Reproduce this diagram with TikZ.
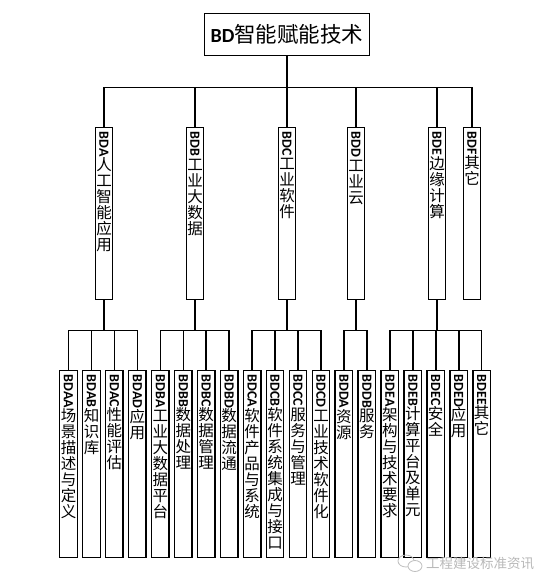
\documentclass[tikz,border=0pt]{standalone}
\usepackage{fontspec}
\usepackage{graphicx}
\usepackage{tikz}
\newfontfamily\bdTreeCJK{Noto Sans CJK SC}
\newfontfamily\bdTreeLatin{Carlito}
\overfullrule=0pt
\makeatletter
\newcommand{\bdTreeChars}[1]{\@tfor\bdTreeCh:=#1\do{\hbox to \hsize{\hss\raisebox{0pt}[13.4pt][2.6pt]{\bdTreeCh}\hss}}}
\makeatother
\newcommand{\bdTreeLabel}[4]{\vbox to #2{\hsize=#1\relax\offinterlineskip\vskip 4pt
  \hbox to \hsize{\hss\rotatebox{-90}{\bdTreeLatin\bfseries\fontsize{14}{14}\selectfont #3}\hss}%
  \vskip 0.5pt
  {\bdTreeCJK\fontsize{15.5}{16}\selectfont\bdTreeChars{#4}}\vfill}}
\newcommand{\bdTopLabel}[2]{\bdTreeLabel{17.5pt}{172pt}{#1}{#2}}
\newcommand{\bdSubLabel}[2]{\bdTreeLabel{17.5pt}{187pt}{#1}{#2}}
\tikzset{
  bdroot/.style={draw, line width=1.4pt, minimum width=165pt, minimum height=42pt, inner sep=0pt},
  bdtop/.style={draw, line width=1.4pt, inner sep=0pt, anchor=north},
  bdsub/.style={draw, line width=1.4pt, inner sep=0pt, anchor=north},
  bdlink/.style={line width=1.6pt},
  bdmark/.style={text=gray!55, inner sep=0pt, font=\bdTreeCJK\fontsize{13.5}{14}\selectfont},
}
\begin{document}
\begin{tikzpicture}[x=1pt,y=-1pt]
\path[use as bounding box, fill=white] (0,0) rectangle (554,588);
% root
\node[bdroot] (bd) at (287,34.5) {{\bdTreeLatin\bfseries\fontsize{20}{20}\selectfont BD}{\bdTreeCJK\fontsize{21.5}{22}\selectfont 智能赋能技术}};
% first level
\node[bdtop] (bda) at (104,127) {\bdTopLabel{BDA}{人工智能应用}};
\node[bdtop] (bdb) at (195,127) {\bdTopLabel{BDB}{工业大数据}};
\node[bdtop] (bdc) at (287,127) {\bdTopLabel{BDC}{工业软件}};
\node[bdtop] (bdd) at (356,127) {\bdTopLabel{BDD}{工业云}};
\node[bdtop] (bde) at (437,127) {\bdTopLabel{BDE}{边缘计算}};
\node[bdtop] (bdf) at (472,127) {\bdTopLabel{BDF}{其它}};
% second level
\node[bdsub] (bdaa) at (68.5,370) {\bdSubLabel{BDAA}{场景描述与定义}};
\node[bdsub] (bdab) at (91.5,370) {\bdSubLabel{BDAB}{知识库}};
\node[bdsub] (bdac) at (114.4,370) {\bdSubLabel{BDAC}{性能评估}};
\node[bdsub] (bdad) at (137.4,370) {\bdSubLabel{BDAD}{应用}};
\node[bdsub] (bdba) at (160.3,370) {\bdSubLabel{BDBA}{工业大数据平台}};
\node[bdsub] (bdbb) at (183.3,370) {\bdSubLabel{BDBB}{数据处理}};
\node[bdsub] (bdbc) at (206.2,370) {\bdSubLabel{BDBC}{数据管理}};
\node[bdsub] (bdbd) at (229.2,370) {\bdSubLabel{BDBD}{数据流通}};
\node[bdsub] (bdca) at (252.1,370) {\bdSubLabel{BDCA}{软件产品与系统}};
\node[bdsub] (bdcb) at (275,370) {\bdSubLabel{BDCB}{软件系统集成与接口}};
\node[bdsub] (bdcc) at (298,370) {\bdSubLabel{BDCC}{服务与管理}};
\node[bdsub] (bdcd) at (321,370) {\bdSubLabel{BDCD}{工业技术软件化}};
\node[bdsub] (bdda) at (343.9,370) {\bdSubLabel{BDDA}{资源}};
\node[bdsub] (bddb) at (366.9,370) {\bdSubLabel{BDDB}{服务}};
\node[bdsub] (bdea) at (389.8,370) {\bdSubLabel{BDEA}{架构与技术要求}};
\node[bdsub] (bdeb) at (412.8,370) {\bdSubLabel{BDEB}{计算平台及单元}};
\node[bdsub] (bdec) at (435.7,370) {\bdSubLabel{BDEC}{安全}};
\node[bdsub] (bded) at (458.7,370) {\bdSubLabel{BDED}{应用}};
\node[bdsub] (bdee) at (481.6,370) {\bdSubLabel{BDEE}{其它}};
% root to first level
\draw[bdlink] (bd.south) -- ++(0,31.5) -| (bda.north);
\draw[bdlink] (bd.south) -- ++(0,31.5) -| (bdb.north);
\draw[bdlink] (bd.south) -- ++(0,31.5) -| (bdc.north);
\draw[bdlink] (bd.south) -- ++(0,31.5) -| (bdd.north);
\draw[bdlink] (bd.south) -- ++(0,31.5) -| (bde.north);
\draw[bdlink] (bd.south) -- ++(0,31.5) -| (bdf.north);
% first level to second level
\draw[bdlink] (bda.south) -- ++(0,30) -| (bdaa.north);
\draw[bdlink] (bda.south) -- ++(0,30) -| (bdab.north);
\draw[bdlink] (bda.south) -- ++(0,30) -| (bdac.north);
\draw[bdlink] (bda.south) -- ++(0,30) -| (bdad.north);
\draw[bdlink] (bdb.south) -- ++(0,30) -| (bdba.north);
\draw[bdlink] (bdb.south) -- ++(0,30) -| (bdbb.north);
\draw[bdlink] (bdb.south) -- ++(0,30) -| (bdbc.north);
\draw[bdlink] (bdb.south) -- ++(0,30) -| (bdbd.north);
\draw[bdlink] (bdc.south) -- ++(0,30) -| (bdca.north);
\draw[bdlink] (bdc.south) -- ++(0,30) -| (bdcb.north);
\draw[bdlink] (bdc.south) -- ++(0,30) -| (bdcc.north);
\draw[bdlink] (bdc.south) -- ++(0,30) -| (bdcd.north);
\draw[bdlink] (bdd.south) -- ++(0,30) -| (bdda.north);
\draw[bdlink] (bdd.south) -- ++(0,30) -| (bddb.north);
\draw[bdlink] (bde.south) -- ++(0,30) -| (bdea.north);
\draw[bdlink] (bde.south) -- ++(0,30) -| (bdeb.north);
\draw[bdlink] (bde.south) -- ++(0,30) -| (bdec.north);
\draw[bdlink] (bde.south) -- ++(0,30) -| (bded.north);
\draw[bdlink] (bde.south) -- ++(0,30) -| (bdee.north);
% watermark
\draw[gray!50, line width=0.8pt] (406,561) ellipse [x radius=8pt, y radius=6pt];
\draw[gray!50, line width=0.8pt, fill=white] (415,566) ellipse [x radius=7pt, y radius=5.5pt];
\node[bdmark] (mark) at (480,563) {工程建设标准资讯};
\end{tikzpicture}
\end{document}
